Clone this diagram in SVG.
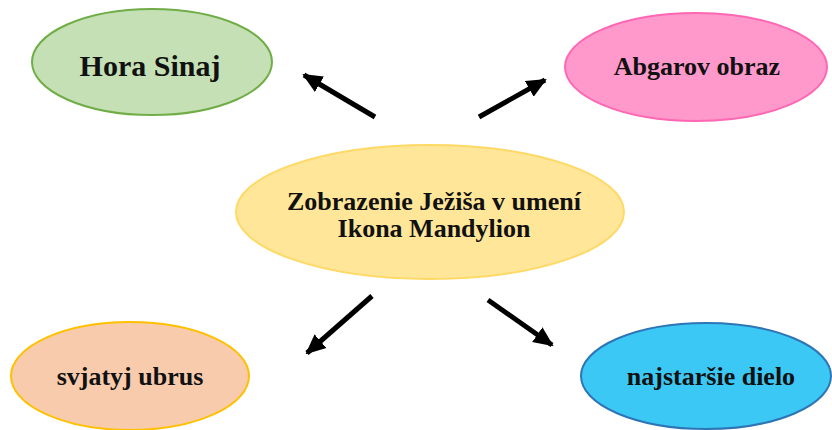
<svg xmlns="http://www.w3.org/2000/svg" width="832" height="430" viewBox="0 0 832 430">
<defs>
<style>
.lbl{font-family:"Liberation Serif","Times New Roman",serif;font-weight:bold;fill:#111;text-anchor:middle}
.node ellipse{stroke-width:2}
.conn line{stroke:#000;stroke-width:5;marker-end:url(#ah)}
</style>
<marker id="ah" markerUnits="userSpaceOnUse" markerWidth="20" markerHeight="20" viewBox="0 0 20 20" refX="18" refY="10" orient="auto">
<path d="M0,1 L20,10 L0,19 Z" fill="#000"/>
</marker>
</defs>
<rect width="832" height="430" fill="#fff"/>
<g id="connectors" class="conn">
<line x1="375" y1="117" x2="304" y2="75"/>
<line x1="479" y1="117" x2="545" y2="80"/>
<line x1="372" y1="296" x2="307" y2="353"/>
<line x1="488" y1="300" x2="552" y2="345"/>
</g>
<g id="hora-sinaj" class="node">
<ellipse cx="152" cy="62" rx="120" ry="53" fill="#c5e0b4" stroke="#70ad47"/>
<text class="lbl" x="150" y="76" font-size="30">Hora Sinaj</text>
</g>
<g id="abgarov-obraz" class="node">
<ellipse cx="696" cy="67" rx="131" ry="54" fill="#ff99cc" stroke="#ff66b3"/>
<text class="lbl" x="697" y="75" font-size="26">Abgarov obraz</text>
</g>
<g id="center" class="node">
<ellipse cx="430" cy="212" rx="194" ry="67" fill="#ffe699" stroke="#ffd966"/>
<text class="lbl" x="434" y="210" font-size="26">Zobrazenie Ježiša v umení</text>
<text class="lbl" x="434" y="237" font-size="26">Ikona Mandylion</text>
</g>
<g id="svjatyj-ubrus" class="node">
<ellipse cx="130" cy="376" rx="119" ry="54" fill="#f8cbad" stroke="#ffc000"/>
<text class="lbl" x="130" y="385" font-size="26">svjatyj ubrus</text>
</g>
<g id="najstarsie-dielo" class="node">
<ellipse cx="706" cy="376" rx="125" ry="53" fill="#3cc8f4" stroke="#2e75b6"/>
<text class="lbl" x="711" y="385" font-size="26">najstaršie dielo</text>
</g>
</svg>
